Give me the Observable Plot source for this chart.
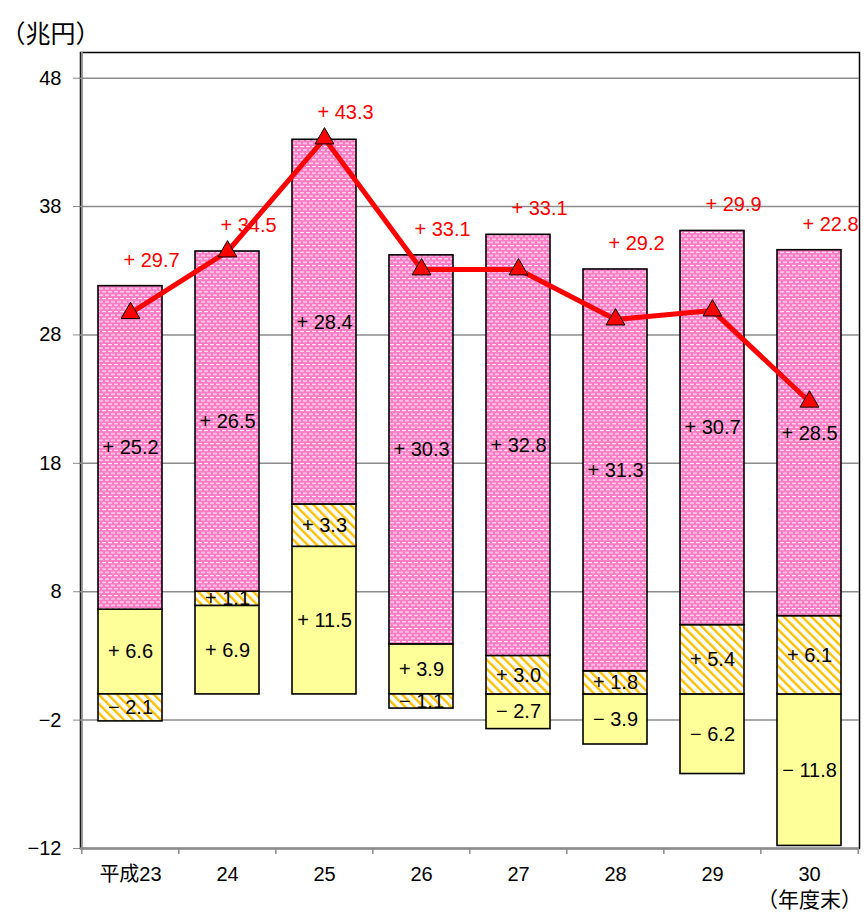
<!DOCTYPE html>
<html>
<head>
<meta charset="utf-8">
<script src="https://cdn.jsdelivr.net/npm/d3@7"></script>
<script src="https://cdn.jsdelivr.net/npm/@observablehq/plot@0.6"></script>
<style>
  html, body { margin: 0; padding: 0; background: #fff; }
</style>
</head>
<body>
<div id="chart"></div>
<script>
// Fiscal year-end categories (Heisei era)
const years = ["平成23", "24", "25", "26", "27", "28", "29", "30"];
// Three stacked components (兆円)
const series1 = [6.6, 6.9, 11.5, 3.9, -2.7, -3.9, -6.2, -11.8];
const series2 = [-2.1, 1.1, 3.3, -1.1, 3.0, 1.8, 5.4, 6.1];
const series3 = [25.2, 26.5, 28.4, 30.3, 32.8, 31.3, 30.7, 28.5];
// Overall change, drawn as the red line
const totals = [29.7, 34.5, 43.3, 33.1, 33.1, 29.2, 29.9, 22.8];
const yTicks = [-12, -2, 8, 18, 28, 38, 48];

const W = 867, H = 917;
const mL = 80, mR = 8, mT = 52, mB = 69;
const yDomain = [-12, 50];
const step = (W - mL - mR) / years.length;
const pxPerUnit = (H - mT - mB) / (yDomain[1] - yDomain[0]);

const seriesKeys = ["s1", "s2", "s3"];
const rows = years.flatMap((year, i) => [
  {year, series: "s1", value: series1[i]},
  {year, series: "s2", value: series2[i]},
  {year, series: "s3", value: series3[i]}
]);

const lineRows = years.map((year, i) => {
  const posTop = [series1[i], series2[i], series3[i]].filter(v => v > 0).reduce((a, b) => a + b, 0);
  return {year, total: totals[i], top: Math.max(posTop, totals[i])};
});

const signed = v => (v < 0 ? "− " : "+ ") + Math.abs(v).toFixed(1);
const grey = "#8c8c8c";

const chart = Plot.plot({
  width: W,
  height: H,
  marginLeft: mL,
  marginRight: mR,
  marginTop: mT,
  marginBottom: mB,
  style: {
    fontFamily: '"Liberation Sans", "Noto Sans CJK JP", sans-serif',
    fontSize: "20px",
    color: "#000",
    background: "#fff"
  },
  x: {
    domain: years,
    paddingInner: 0.34,
    paddingOuter: 0.17,
    tickSize: 0,
    tickPadding: 18,
    label: null
  },
  y: {
    domain: yDomain,
    ticks: yTicks,
    tickSize: 7,
    tickPadding: 12,
    label: null
  },
  color: {
    type: "ordinal",
    domain: seriesKeys,
    range: ["#ffff99", "url(#hatch)", "url(#dots)"]
  },
  marks: [
    Plot.frame({stroke: "#000", strokeWidth: 1.5}),
    Plot.ruleY(yTicks, {stroke: grey, strokeWidth: 1.5}),
    // left axis line and category boundary ticks
    Plot.ruleX([years[0]], {x: d => d, dx: -step / 2, y1: yDomain[0], y2: yDomain[1], stroke: grey, strokeWidth: 2}),
    Plot.ruleX(years, {x: d => d, dx: -step / 2, y1: yDomain[0], y2: yDomain[0] - 6 / pxPerUnit, stroke: grey, strokeWidth: 1.5}),
    Plot.ruleX([years[years.length - 1]], {x: d => d, dx: step / 2, y1: yDomain[0], y2: yDomain[0] - 6 / pxPerUnit, stroke: grey, strokeWidth: 1.5}),
    Plot.ruleY([yDomain[0]], {stroke: grey, strokeWidth: 2}),
    Plot.barY(rows, {x: "year", y: "value", z: "series", fill: "series", stroke: "#000", strokeWidth: 1.6}),
    Plot.text(rows, Plot.stackY({
      x: "year", y: "value", z: "series",
      text: d => signed(d.value),
      fill: "#000", fontSize: 20
    })),
    Plot.line(lineRows, {x: "year", y: "total", stroke: "#ff0000", strokeWidth: 5}),
    Plot.dot(lineRows, {x: "year", y: "total", symbol: "triangle", r: 7, fill: "#ff0000", stroke: "#000", strokeWidth: 1}),
    Plot.text(lineRows, {x: "year", y: "top", text: d => signed(d.total), fill: "#ff0000", fontSize: 20, dx: 21, dy: -26}),
    Plot.text(["（兆円）"], {text: d => d, frameAnchor: "top-left", textAnchor: "start", dx: -80, dy: -27, fontSize: 25}),
    Plot.text([years[years.length - 1]], {x: d => d, text: () => "（年度末）", frameAnchor: "bottom", dy: 58, fontSize: 21})
  ]
});

// fill patterns for the hatched and dotted segments
const defs = document.createElementNS("http://www.w3.org/2000/svg", "defs");
defs.innerHTML = `
  <pattern id="dots" width="6" height="6.6" patternUnits="userSpaceOnUse">
    <rect width="6" height="6.6" fill="#ff7ac4"/>
    <rect x="0" y="1" width="4" height="1" fill="#fff"/>
    <rect x="3" y="4.3" width="4" height="1" fill="#fff"/>
    <rect x="-3" y="4.3" width="4" height="1" fill="#fff"/>
  </pattern>
  <pattern id="hatch" width="6.5" height="6.5" patternUnits="userSpaceOnUse" patternTransform="rotate(-45)">
    <rect width="6.5" height="6.5" fill="#fff"/>
    <rect x="0" y="0" width="2.4" height="6.5" fill="#ffc000"/>
  </pattern>`;
chart.insertBefore(defs, chart.firstChild);

chart.querySelectorAll('g[aria-label="y-axis tick"]').forEach(g => g.setAttribute("stroke", grey));

document.getElementById("chart").appendChild(chart);
</script>
</body>
</html>
